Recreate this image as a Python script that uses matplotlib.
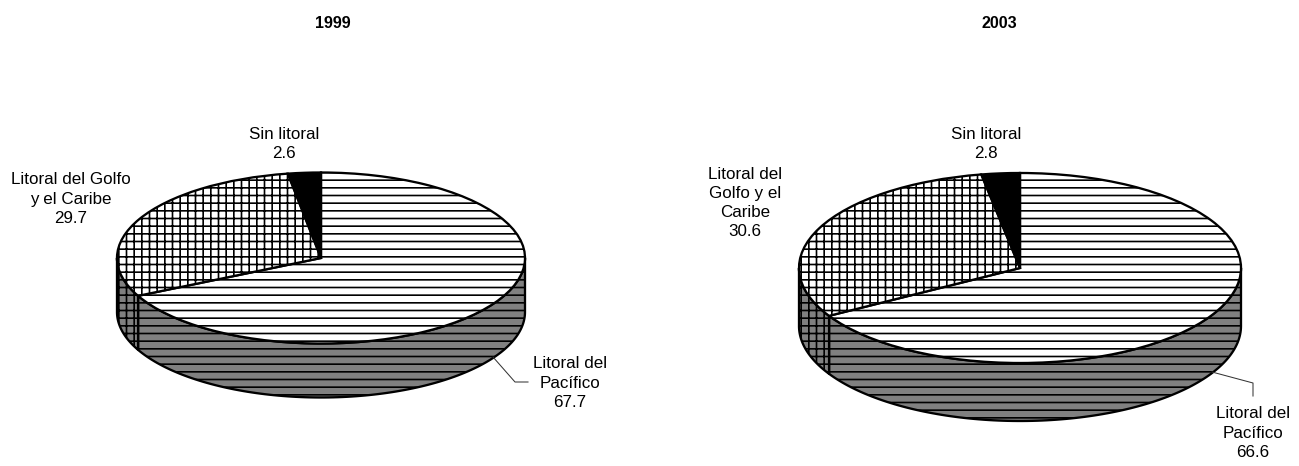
import numpy as np
import matplotlib
matplotlib.use('Agg')
import matplotlib.pyplot as plt
from matplotlib.lines import Line2D

plt.rcParams['font.family'] = ['Liberation Sans', 'DejaVu Sans']
plt.rcParams['hatch.linewidth'] = 1.3

W, H = 1299, 466
DPI = 92

years = ['1999', '2003']
values_1999 = [67.7, 29.7, 2.6]
values_2003 = [66.6, 30.6, 2.8]
labels_1999 = ['Litoral del\nPacífico', 'Litoral del Golfo\ny el Caribe', 'Sin litoral']
labels_2003 = ['Litoral del\nPacífico', 'Litoral del\nGolfo y el\nCaribe', 'Sin litoral']

hatches = ['--', '++', None]
top_colors = ['white', 'white', 'black']
side_color = '#808080'


def px(x, y):
    return x / W, 1 - y / H


def draw_pie(values, cx, cy, rx, ry, depth):
    ax = fig.add_axes([(cx - rx) / W, 1 - (cy + ry) / H, 2 * rx / W, 2 * ry / H])
    d = depth / ry
    edges = np.cumsum([0] + values) / sum(values) * 360
    # side wall, only the front half of the rim shows
    for i in range(len(values)):
        a0 = max(edges[i], 90)
        a1 = min(edges[i + 1], 270)
        if a1 <= a0:
            continue
        t = np.radians(np.linspace(a0, a1, 120))
        x = np.sin(t)
        y = np.cos(t)
        ax.fill_between(x, y - d, y, facecolor=side_color, edgecolor='black',
                        hatch=hatches[i], linewidth=1.8, clip_on=False)
    wedges, _ = ax.pie(values, startangle=90, counterclock=False, colors=top_colors,
                       wedgeprops=dict(edgecolor='black', linewidth=1.8, clip_on=False))
    for w, h in zip(wedges, hatches):
        if h:
            w.set_hatch(h)
    ax.set_aspect('auto')
    ax.set_xlim(-1, 1)
    ax.set_ylim(-1, 1)
    ax.axis('off')
    return ax


def label(x, y, text):
    fig.text(*px(x, y), text, ha='center', va='center', fontsize=13.3,
             linespacing=1.36, color='black')


def leader(xs, ys):
    fig.add_artist(Line2D([x / W for x in xs], [1 - y / H for y in ys],
                          color='#333333', linewidth=0.8))


fig = plt.figure(figsize=(W / DPI, H / DPI), dpi=DPI, facecolor='white')

draw_pie(values_1999, 321, 258, 204, 85.5, 54)
draw_pie(values_2003, 1020, 268, 221, 95, 58)

fig.text(*px(333, 23), years[0], ha='center', va='center', fontsize=12.6, fontweight='bold')
fig.text(*px(999, 23), years[1], ha='center', va='center', fontsize=12.6, fontweight='bold')

label(284, 144, labels_1999[2] + '\n' + str(values_1999[2]))
label(71, 199, labels_1999[1] + '\n' + str(values_1999[1]))
label(570, 383, labels_1999[0] + '\n' + str(values_1999[0]))

label(986, 144, labels_2003[2] + '\n' + str(values_2003[2]))
label(745, 203, labels_2003[1] + '\n' + str(values_2003[1]))
label(1253, 433, labels_2003[0] + '\n' + str(values_2003[0]))

leader([493, 515, 528], [357, 382, 382])
leader([1212, 1253, 1253], [372, 383, 396])

fig.savefig('out.png', dpi=DPI)
